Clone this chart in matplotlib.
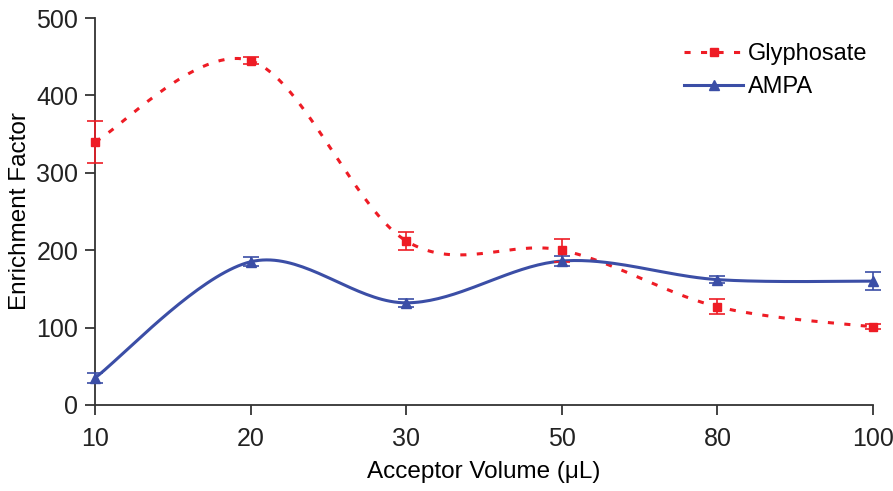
import numpy as np
import matplotlib
matplotlib.use("Agg")
import matplotlib.pyplot as plt

# Acceptor volume categories (µL) and enrichment factors
volumes = ["10", "20", "30", "50", "80", "100"]
glyphosate = [340, 445, 212, 200, 127, 101]
glyphosate_err = [27, 4, 12, 15, 10, 3]
ampa = [35, 185, 132, 186, 162, 160]
ampa_err = [6, 6, 5, 6, 5, 12]

plt.rcParams['font.family'] = ['Liberation Sans', 'DejaVu Sans']

RED = "#ee1c25"
BLUE = "#3b4ea6"


def smooth(x, y, n=40):
    """Spreadsheet-style smoothed curve (cubic Bezier through every point)."""
    x = np.asarray(x, float)
    y = np.asarray(y, float)
    pts = np.column_stack([x, y])
    out = []
    t = np.linspace(0, 1, n)[:, None]
    for i in range(len(pts) - 1):
        p0 = pts[i - 1] if i > 0 else pts[i]
        p1 = pts[i]
        p2 = pts[i + 1]
        p3 = pts[i + 2] if i + 2 < len(pts) else pts[i + 1]
        c1 = p1 + (p2 - p0) / 6.0
        c2 = p2 - (p3 - p1) / 6.0
        seg = ((1 - t) ** 3) * p1 + 3 * ((1 - t) ** 2) * t * c1 \
            + 3 * (1 - t) * t ** 2 * c2 + t ** 3 * p2
        out.append(seg if i == 0 else seg[1:])
    seg = np.vstack(out)
    return seg[:, 0], seg[:, 1]


fig = plt.figure(figsize=(8.93, 4.91), dpi=100)
ax = fig.add_axes([0.1064, 0.1752, 0.8712, 0.7881])

xpos = np.arange(len(volumes))

gx, gy = smooth(xpos, glyphosate)
ax.plot(gx, gy, color=RED, lw=2.2, linestyle=(0, (2.0, 3.4)), zorder=3,
        clip_on=False)
ax.errorbar(xpos, glyphosate, yerr=glyphosate_err, fmt="none", ecolor=RED,
            elinewidth=1.2, capsize=6, capthick=1.2, zorder=4, clip_on=False)
ax.plot(xpos, glyphosate, linestyle="none", marker="s", ms=6, color=RED,
        zorder=5, clip_on=False)

ax_x, ax_y = smooth(xpos, ampa)
ax.plot(ax_x, ax_y, color=BLUE, lw=2.2, zorder=3, clip_on=False)
ax.errorbar(xpos, ampa, yerr=ampa_err, fmt="none", ecolor=BLUE,
            elinewidth=1.2, capsize=6, capthick=1.2, zorder=4, clip_on=False)
ax.plot(xpos, ampa, linestyle="none", marker="^", ms=6.5, color=BLUE,
        zorder=5, clip_on=False)

# legend proxies
h1, = ax.plot([], [], color=RED, lw=2.2, linestyle=(0, (2.0, 3.4)),
              marker="s", ms=6)
h2, = ax.plot([], [], color=BLUE, lw=2.2, marker="^", ms=6.5)
ax.legend([h1, h2], ["Glyphosate", "AMPA"], loc="upper right",
          bbox_to_anchor=(1.02, 0.99), frameon=False, fontsize=17,
          handlelength=2.5, handletextpad=0.2, labelspacing=0.45)

ax.set_xlim(0, len(volumes) - 1)
ax.set_ylim(0, 500)
ax.set_xticks(xpos)
ax.set_xticklabels(volumes)
ax.set_yticks(np.arange(0, 501, 100))
ax.tick_params(axis="both", direction="out", length=7, width=1.2,
               labelsize=18, colors="#222222")
ax.tick_params(axis="x", pad=9)
ax.tick_params(axis="y", pad=5)
ax.spines["top"].set_visible(False)
ax.spines["right"].set_visible(False)
for s in ("left", "bottom"):
    ax.spines[s].set_linewidth(1.3)
    ax.spines[s].set_color("#333333")

ax.set_xlabel("Acceptor Volume (\u03bcL)", fontsize=17.5, labelpad=7)
ax.set_ylabel("Enrichment Factor", fontsize=17.5, labelpad=4)

fig.savefig("out.png", dpi=100)
